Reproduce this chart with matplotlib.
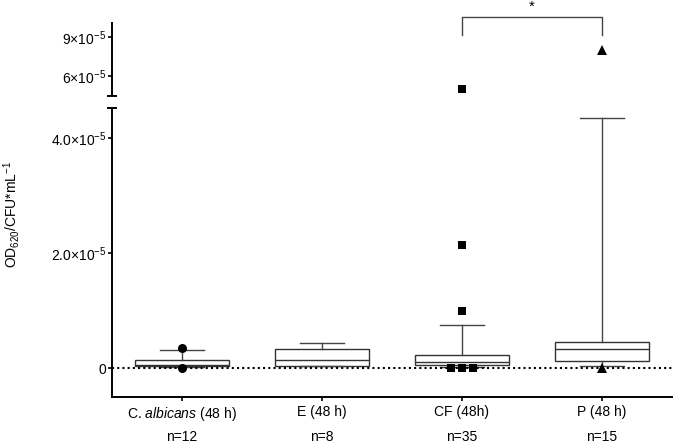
import matplotlib
matplotlib.use("Agg")
import matplotlib.pyplot as plt

plt.rcParams['font.family'] = ['Liberation Sans', 'DejaVu Sans']
plt.rcParams['mathtext.fontset'] = 'custom'
plt.rcParams['mathtext.rm'] = 'Liberation Sans'
plt.rcParams['mathtext.it'] = 'Liberation Sans:italic'

categories = ["C. $\\it{albicans}$ (48 h)", "E (48 h)", "CF (48h)", "P (48 h)"]
n_labels = ["n=12", "n=8", "n=35", "n=15"]

# box statistics, in units of 1e-5
whislo = [0.02, 0.03, 0.02, 0.03]
q1 = [0.04, 0.03, 0.05, 0.12]
med = [0.06, 0.14, 0.10, 0.33]
q3 = [0.14, 0.33, 0.23, 0.45]
whishi = [0.31, 0.43, 0.75, 4.35]

# outliers (x position, value in 1e-5) and their markers
flier_x = [[0, 0], [], [2, 2, 2, 1.92, 2, 2.08], [3, 3]]
flier_y = [[0.35, 0.0], [], [1.0, 2.14, 4.98, 0.0, 0.0, 0.0], [0.0, 8.0]]
flier_marker = ['o', 'o', 's', '^']
flier_size = [6.5, 6.5, 6.4, 7]

scale = 1e-5
lower_ticks = [0, 2.0e-5, 4.0e-5]
lower_ticklabels = ["0", "2.0$\\times$10$^{-5}$", "4.0$\\times$10$^{-5}$"]
upper_ticks = [6e-5, 9e-5]
upper_ticklabels = ["6$\\times$10$^{-5}$", "9$\\times$10$^{-5}$"]

W, H = 675, 446
fig = plt.figure(figsize=(W / 100, H / 100), dpi=100)
ax_lo = fig.add_axes([112 / W, (H - 397) / H, 560 / W, 289 / H])
ax_hi = fig.add_axes([112 / W, (H - 96) / H, 560 / W, 73 / H])

line_c = '#333333'
stats = []
for i in range(len(categories)):
    stats.append(dict(whislo=whislo[i] * scale, q1=q1[i] * scale, med=med[i] * scale,
                      q3=q3[i] * scale, whishi=whishi[i] * scale, fliers=[]))

for ax in (ax_lo, ax_hi):
    ax.bxp(stats, positions=range(4), widths=0.67, capwidths=0.31, showfliers=False,
           patch_artist=True,
           boxprops=dict(facecolor='white', edgecolor=line_c, linewidth=1.0),
           medianprops=dict(color=line_c, linewidth=1.0),
           whiskerprops=dict(color='#444444', linewidth=1.0),
           capprops=dict(color='#444444', linewidth=1.0), zorder=2)
    for xs, ys, m, ms in zip(flier_x, flier_y, flier_marker, flier_size):
        if xs:
            ax.plot(xs, [v * scale for v in ys], linestyle='none', marker=m, color='black',
                    markersize=ms, markeredgewidth=0, zorder=4)
    ax.set_xlim(-0.5, 3.5)
    for s in ('top', 'right'):
        ax.spines[s].set_visible(False)
    ax.spines['left'].set_linewidth(1.4)
    ax.tick_params(axis='y', direction='out', length=3, width=1.2, labelsize=10, pad=1)

ax_lo.axhline(0, color='black', linestyle=(0, (1, 1.5)), linewidth=1.5, zorder=3)
ax_lo.set_ylim(-0.5e-5, 4.52e-5)
ax_lo.set_yticks(lower_ticks)
ax_lo.set_yticklabels(lower_ticklabels)
ax_lo.spines['bottom'].set_linewidth(1.4)
ax_lo.set_xticks(range(4))
ax_lo.set_xticklabels(categories, fontsize=10)
ax_lo.tick_params(axis='x', direction='out', length=3, width=1.2, pad=2.5)
for i, n in enumerate(n_labels):
    ax_lo.text(i, -0.138, n, transform=ax_lo.get_xaxis_transform(), ha='center', va='center', fontsize=10)

ax_hi.set_ylim(4.46e-5, 10.08e-5)
ax_hi.set_yticks(upper_ticks)
ax_hi.set_yticklabels(upper_ticklabels)
ax_hi.spines['bottom'].set_visible(False)
ax_hi.set_xticks([])

# end caps at the axis break
ax_lo.plot([0], [1], marker='_', markersize=7, mew=1.4, color='black', transform=ax_lo.transAxes, clip_on=False)
ax_hi.plot([0], [0], marker='_', markersize=7, mew=1.4, color='black', transform=ax_hi.transAxes, clip_on=False)

# significance bracket between CF and P
ax_hi.plot([2, 2, 3, 3], [9.15e-5, 10.54e-5, 10.54e-5, 9.15e-5], color='#444444', linewidth=1.0, clip_on=False)
ax_hi.text(2.5, 11.35e-5, "*", ha='center', va='center', fontsize=11)

fig.text(12 / W, 1 - 214 / H, "OD$_{620}$/CFU*mL$^{-1}$", rotation=90, ha='center', va='center', fontsize=10)

fig.savefig("out.png", dpi=100)
